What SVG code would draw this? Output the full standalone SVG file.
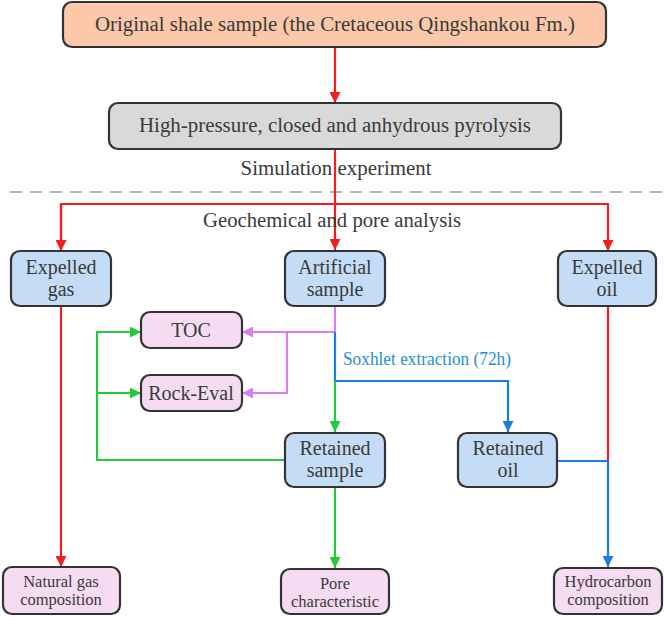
<svg xmlns="http://www.w3.org/2000/svg" width="664" height="617" viewBox="0 0 664 617">
<style>
text{fill:#3a3a3a;text-anchor:middle}
.n{stroke:#333;stroke-width:2.2}
.peach{fill:#fbc8aa}
.gray{fill:#d9d9d9}
.blue{fill:#c4dcf6}
.pink{fill:#f5dcf2}
.l{fill:none;stroke-width:2.2}
.r{stroke:#f21d1d}
.g{stroke:#22c93a}
.m{stroke:#d97ef2}
.b{stroke:#1a7ee0}
.t20{font-size:20px}
.t17{font-size:16.5px}
</style>
<defs>
<marker id="ar" viewBox="0 0 10 10" refX="10" refY="5" markerWidth="5" markerHeight="5" orient="auto" markerUnits="strokeWidth"><path d="M0,0 L10,5 L0,10 z" fill="#f21d1d"/></marker>
<marker id="ag" viewBox="0 0 10 10" refX="10" refY="5" markerWidth="5" markerHeight="5" orient="auto" markerUnits="strokeWidth"><path d="M0,0 L10,5 L0,10 z" fill="#22c93a"/></marker>
<marker id="am" viewBox="0 0 10 10" refX="10" refY="5" markerWidth="5" markerHeight="5" orient="auto" markerUnits="strokeWidth"><path d="M0,0 L10,5 L0,10 z" fill="#d97ef2"/></marker>
<marker id="ab" viewBox="0 0 10 10" refX="10" refY="5" markerWidth="5" markerHeight="5" orient="auto" markerUnits="strokeWidth"><path d="M0,0 L10,5 L0,10 z" fill="#1a7ee0"/></marker>
</defs>
<rect width="664" height="617" fill="#fff"/>
<g font-family="'Liberation Serif', 'Times New Roman', 'DejaVu Serif', serif">
<line x1="10" y1="192" x2="664" y2="192" stroke="#b3b3b3" stroke-width="2" stroke-dasharray="12 8"/>
<g id="connectors">
<line class="l r" x1="335" y1="47" x2="335" y2="103" marker-end="url(#ar)"/>
<polyline class="l r" points="335,149 335,250" marker-end="url(#ar)"/>
<polyline class="l r" points="61,251 61,204 608,204 608,251" marker-end="url(#ar)"/>
<polyline class="l r" points="61,204 61,251" marker-end="url(#ar)"/>
<line class="l r" x1="61" y1="306" x2="61" y2="567" marker-end="url(#ar)"/>
<line class="l r" x1="608" y1="306" x2="608" y2="461"/>
<polyline class="l m" points="335,306 335,332 242,332" marker-end="url(#am)"/>
<polyline class="l m" points="287,332 287,393 242,393" marker-end="url(#am)"/>
<polyline class="l b" points="335,332 335,381 508,381 508,432" marker-end="url(#ab)"/>
<line class="l g" x1="335" y1="381" x2="335" y2="432" marker-end="url(#ag)"/>
<polyline class="l g" points="285,460 97,460 97,332 141,332" marker-end="url(#ag)"/>
<polyline class="l g" points="97,393 141,393" marker-end="url(#ag)"/>
<line class="l g" x1="335" y1="487" x2="335" y2="568" marker-end="url(#ag)"/>
<polyline class="l b" points="557,461 608,461 608,567" marker-end="url(#ab)"/>
<text x="427" y="365" style="font-size:18px;fill:#2590d8" textLength="168" lengthAdjust="spacingAndGlyphs">Soxhlet extraction (72h)</text>
</g>
<g id="original"><rect class="n peach" x="63" y="2" width="543" height="45" rx="9"/><text class="t20" x="335" y="31" textLength="480" lengthAdjust="spacingAndGlyphs">Original shale sample (the Cretaceous Qingshankou Fm.)</text></g>
<g id="pyrolysis"><rect class="n gray" x="109" y="103" width="452" height="46" rx="9"/><text class="t20" x="335" y="132" textLength="392" lengthAdjust="spacingAndGlyphs">High-pressure, closed and anhydrous pyrolysis</text></g>
<text class="t20" x="336" y="175" textLength="191" lengthAdjust="spacingAndGlyphs">Simulation experiment</text>
<text class="t20" x="332" y="227" textLength="258" lengthAdjust="spacingAndGlyphs">Geochemical and pore analysis</text>
<g id="expelled-gas"><rect class="n blue" x="11" y="251" width="100" height="55" rx="9"/><text class="t20" x="61" y="274">Expelled</text><text class="t20" x="61" y="296">gas</text></g>
<g id="artificial"><rect class="n blue" x="285" y="251" width="100" height="55" rx="9"/><text class="t20" x="335" y="274">Artificial</text><text class="t20" x="335" y="296">sample</text></g>
<g id="expelled-oil"><rect class="n blue" x="558" y="251" width="98" height="55" rx="9"/><text class="t20" x="607" y="274">Expelled</text><text class="t20" x="607" y="296">oil</text></g>
<g id="toc"><rect class="n pink" x="141" y="312" width="101" height="36" rx="9"/><text class="t20" x="191" y="337">TOC</text></g>
<g id="rock-eval"><rect class="n pink" x="141" y="375" width="101" height="36" rx="9"/><text class="t20" x="191" y="400">Rock-Eval</text></g>
<g id="retained-sample"><rect class="n blue" x="285" y="433" width="100" height="54" rx="9"/><text class="t20" x="335" y="455">Retained</text><text class="t20" x="335" y="477">sample</text></g>
<g id="retained-oil"><rect class="n blue" x="458" y="433" width="99" height="54" rx="9"/><text class="t20" x="508" y="455">Retained</text><text class="t20" x="508" y="477">oil</text></g>
<g id="natural-gas"><rect class="n pink" x="3" y="567" width="117" height="47" rx="9"/><text class="t17" x="61" y="587">Natural gas</text><text class="t17" x="61" y="605">composition</text></g>
<g id="pore"><rect class="n pink" x="281" y="569" width="108" height="45" rx="9"/><text class="t17" x="335" y="589">Pore</text><text class="t17" x="335" y="607">characteristic</text></g>
<g id="hydrocarbon"><rect class="n pink" x="554" y="568" width="108" height="46" rx="9"/><text class="t17" x="608" y="587">Hydrocarbon</text><text class="t17" x="608" y="605">composition</text></g>
</g>
</svg>
